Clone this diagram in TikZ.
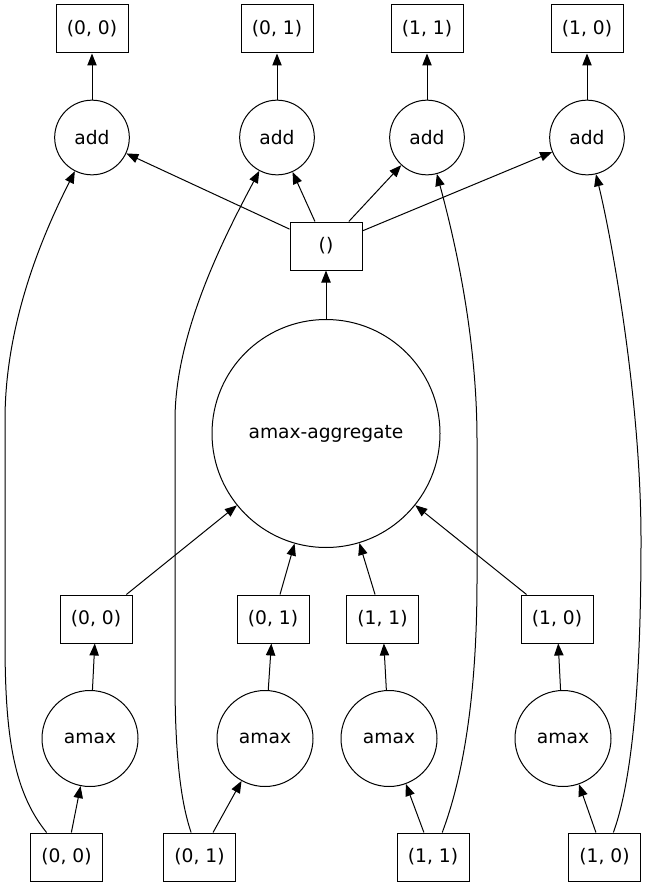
\documentclass[tikz,border=0pt]{standalone}
\usepackage{fontspec}
\setmainfont{DejaVu Sans}
\usetikzlibrary{arrows.meta}
\begin{document}
\begin{tikzpicture}[x=0.75pt,y=-0.75pt,
  every node/.style={font=\fontsize{14}{16}\selectfont, inner sep=0pt},
  box/.style={draw, rectangle, line width=0.75pt, minimum width=54pt, minimum height=36pt},
  addc/.style={draw, circle, line width=0.75pt, minimum size=56pt},
  amaxc/.style={draw, circle, line width=0.75pt, minimum size=72pt},
  aggc/.style={draw, circle, line width=0.75pt, minimum size=171pt},
  edge/.style={draw, line width=0.75pt, -{Triangle[length=9pt,width=7pt]}}
]
\useasboundingbox (0,0) rectangle (653,888);
% top boxes
\node[box] (t00) at (92,29) {(0, 0)};
\node[box] (t01) at (277,29) {(0, 1)};
\node[box] (t11) at (427,29) {(1, 1)};
\node[box] (t10) at (587,29) {(1, 0)};
% add circles
\node[addc] (a00) at (92,137.5) {add};
\node[addc] (a01) at (277,137.5) {add};
\node[addc] (a11) at (427,137.5) {add};
\node[addc] (a10) at (587,137.5) {add};
% tuple box
\node[box] (tup) at (326,246) {()};
% aggregate
\node[aggc] (agg) at (326,433.5) {amax-aggregate};
% middle boxes
\node[box] (m00) at (96,619) {(0, 0)};
\node[box] (m01) at (273,619) {(0, 1)};
\node[box] (m11) at (382.5,619) {(1, 1)};
\node[box] (m10) at (557,619) {(1, 0)};
% amax circles
\node[amaxc] (x00) at (90,738.5) {amax};
\node[amaxc] (x01) at (265,738.5) {amax};
\node[amaxc] (x11) at (389,738.5) {amax};
\node[amaxc] (x10) at (563,738.5) {amax};
% bottom boxes
\node[box] (b00) at (66.5,857) {(0, 0)};
\node[box] (b01) at (199.5,857) {(0, 1)};
\node[box] (b11) at (433,857) {(1, 1)};
\node[box] (b10) at (604.5,857) {(1, 0)};

% add -> top
\foreach \k in {00,01,11,10} {
  \draw[edge] (a\k) -- (t\k);
}
% tuple -> add
\foreach \k in {00,01,11,10} {
  \draw[edge] (tup) -- (a\k);
}
% agg -> tuple
\draw[edge] (agg) -- (tup);
% middle -> agg
\foreach \k in {00,01,11,10} {
  \draw[edge] (m\k) -- (agg);
}
% amax -> middle
\foreach \k in {00,01,11,10} {
  \draw[edge] (x\k) -- (m\k);
}
% bottom -> amax
\foreach \k in {00,01,11,10} {
  \draw[edge] (b\k) -- (x\k);
}
% bottom -> add (long curves)
\draw[edge] (b00) .. controls (12,790) and (5,730) .. (5,640) -- (5,420)
  .. controls (5,320) and (45,230) .. (a00);
\draw[edge] (b01) .. controls (180,800) and (175,750) .. (175,680) -- (175,420)
  .. controls (175,330) and (228,230) .. (a01);
\draw[edge] (b11) .. controls (462,780) and (477,700) .. (477,580) -- (477,440)
  .. controls (477,330) and (452,230) .. (a11);
\draw[edge] (b10) .. controls (636,770) and (641,650) .. (641,540)
  .. controls (641,400) and (612,240) .. (a10);
\end{tikzpicture}
\end{document}
